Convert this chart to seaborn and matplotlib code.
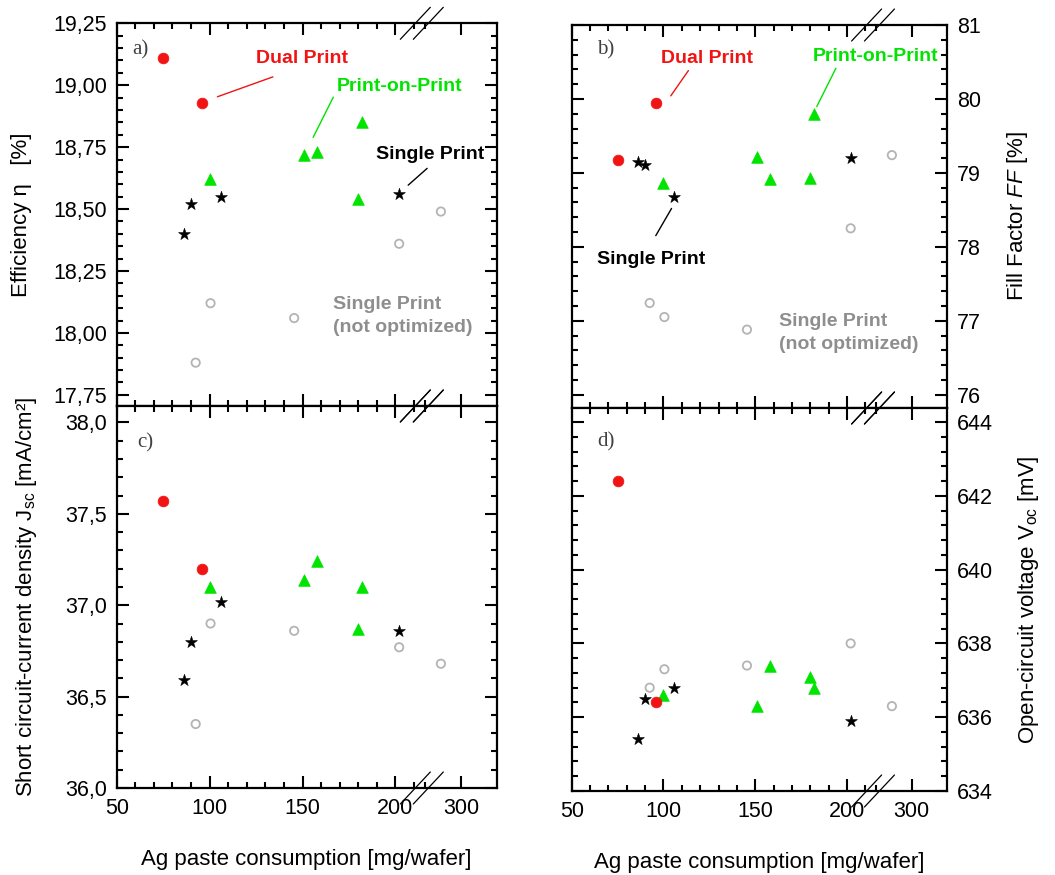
import numpy as np
import matplotlib
matplotlib.use("Agg")
import matplotlib.pyplot as plt
import seaborn as sns
from matplotlib.ticker import FixedLocator, FuncFormatter, NullFormatter
from matplotlib.lines import Line2D

sns.set_style("ticks")
plt.rcParams['font.family'] = ['Liberation Sans', 'DejaVu Sans']
plt.rcParams['mathtext.fontset'] = 'custom'
plt.rcParams['mathtext.rm'] = 'Liberation Sans'
plt.rcParams['mathtext.it'] = 'Liberation Sans:italic'
for key in ('text.color', 'axes.labelcolor', 'xtick.color', 'ytick.color'):
    plt.rcParams[key] = 'black'

# Ag paste consumption [mg/wafer]
x_dual = [75, 96]
x_single = [86, 90, 106, 202]
x_pop = [100, 151, 158, 180, 182]
x_old = [92.5, 100.5, 145.5, 202, 272]

# a) efficiency [%]
eta_dual = [19.11, 18.93]
eta_single = [18.40, 18.52, 18.55, 18.56]
eta_pop = [18.62, 18.72, 18.73, 18.54, 18.85]
eta_old = [17.88, 18.12, 18.06, 18.36, 18.49]

# b) fill factor [%]
ff_dual = [79.17, 79.95]
ff_single = [79.15, 79.10, 78.67, 79.20]
ff_pop = [78.86, 79.22, 78.92, 78.93, 79.80]
ff_old = [77.24, 77.05, 76.88, 78.25, 79.24]

# c) Jsc [mA/cm2]
jsc_dual = [37.57, 37.20]
jsc_single = [36.59, 36.80, 37.02, 36.86]
jsc_pop = [37.10, 37.14, 37.24, 36.87, 37.10]
jsc_old = [36.35, 36.90, 36.86, 36.77, 36.68]

# d) Voc [mV]
voc_dual = [642.4, 636.4]
voc_single = [635.4, 636.5, 636.8, 635.9]
voc_pop = [636.6, 636.3, 637.4, 637.1, 636.8]
voc_old = [636.8, 637.3, 637.4, 638.0, 636.3]

x_major = [50, 100, 150, 200, 300]
x_minor = [60, 70, 80, 90, 110, 120, 130, 140, 160, 170, 180, 190, 210, 250]

RED = '#f01414'
GREEN = '#00e400'
GRAY_MK = '#b4b4b4'
GRAY_TX = '#8e8e8e'

# broken x axis: 50..212 linear, 212..250 squeezed, 250..350 compressed
XK = [50, 212, 250, 350]
XL = [50, 212, 216, 254.5]


def fwd(x):
    x = np.asarray(x, float)
    y = np.interp(x, XK, XL)
    y = np.where(x < XK[0], XL[0] + (x - XK[0]), y)
    y = np.where(x > XK[-1], XL[-1] + (x - XK[-1]) * 0.385, y)
    return y


def inv(y):
    y = np.asarray(y, float)
    x = np.interp(y, XL, XK)
    x = np.where(y < XL[0], XK[0] + (y - XL[0]), x)
    x = np.where(y > XL[-1], XK[-1] + (y - XL[-1]) / 0.385, x)
    return x


fig = plt.figure(figsize=(10.55, 8.75), dpi=100)
W, H = 1055, 875


def add_ax(l, t, r, b):
    return fig.add_axes([l / W, 1 - b / H, (r - l) / W, (b - t) / H])


ax_a = add_ax(116.7, 23.3, 496.7, 406)
ax_c = add_ax(116.7, 406, 496.7, 788)
ax_b = add_ax(571.7, 25, 947, 408)
ax_d = add_ax(571.7, 408, 947, 791)

panels = [
    (ax_a, eta_dual, eta_single, eta_pop, eta_old),
    (ax_b, ff_dual, ff_single, ff_pop, ff_old),
    (ax_c, jsc_dual, jsc_single, jsc_pop, jsc_old),
    (ax_d, voc_dual, voc_single, voc_pop, voc_old),
]

for ax, yd, ys, yp, yo in panels:
    sns.scatterplot(x=x_old, y=yo, ax=ax, marker='o', s=36, color=GRAY_MK,
                    facecolors='none', edgecolor=GRAY_MK, linewidth=1.3, zorder=3)
    sns.scatterplot(x=x_pop, y=yp, ax=ax, marker='^', s=70, color=GREEN,
                    edgecolor=GREEN, linewidth=0.5, zorder=4)
    sns.scatterplot(x=x_single, y=ys, ax=ax, marker='*', s=80, color='black',
                    edgecolor='black', linewidth=0.4, zorder=5)
    sns.scatterplot(x=x_dual, y=yd, ax=ax, marker='o', s=60, color=RED,
                    edgecolor=RED, linewidth=0.5, zorder=6)
    ax.set_xscale('function', functions=(fwd, inv))
    ax.set_xlim(50, 350)
    ax.xaxis.set_major_locator(FixedLocator(x_major))
    ax.xaxis.set_minor_locator(FixedLocator(x_minor))
    ax.xaxis.set_major_formatter(FuncFormatter(lambda v, p: f"{v:.0f}"))
    ax.xaxis.set_minor_formatter(NullFormatter())
    ax.tick_params(which='both', direction='in', top=True, bottom=True,
                   left=True, right=True, width=1.5, labelsize=15.5, pad=7,
                   color='black', labelcolor='black')
    ax.tick_params(which='major', length=8.5)
    ax.tick_params(which='minor', length=4.5)
    for sp in ax.spines.values():
        sp.set_linewidth(1.6)
        sp.set_color('black')
    ax.set_xlabel('')
    ax.set_ylabel('')

# y axes
ax_a.set_ylim(17.705, 19.25)
ax_a.yaxis.set_major_locator(FixedLocator(np.arange(17.75, 19.26, 0.25)))
ax_a.yaxis.set_minor_locator(FixedLocator(np.arange(17.75, 19.26, 0.05)))
ax_a.yaxis.set_major_formatter(FuncFormatter(lambda v, p: f"{v:.2f}".replace('.', ',')))

ax_c.set_ylim(36.0, 38.09)
ax_c.yaxis.set_major_locator(FixedLocator(np.arange(36.0, 38.01, 0.5)))
ax_c.yaxis.set_minor_locator(FixedLocator(np.arange(36.0, 38.09, 0.1)))
ax_c.yaxis.set_major_formatter(FuncFormatter(lambda v, p: f"{v:.1f}".replace('.', ',')))

ax_b.set_ylim(75.82, 81.0)
ax_b.yaxis.set_major_locator(FixedLocator(np.arange(76, 81.1, 1)))
ax_b.yaxis.set_minor_locator(FixedLocator(np.arange(75.8, 81.05, 0.2)))
ax_b.yaxis.set_major_formatter(FuncFormatter(lambda v, p: f"{v:.0f}"))

ax_d.set_ylim(634.0, 644.38)
ax_d.yaxis.set_major_locator(FixedLocator(np.arange(634, 644.1, 2)))
ax_d.yaxis.set_minor_locator(FixedLocator(np.arange(634, 644.4, 0.4)))
ax_d.yaxis.set_major_formatter(FuncFormatter(lambda v, p: f"{v:.0f}"))

for ax in (ax_a, ax_b):
    ax.tick_params(labelbottom=False)
for ax in (ax_b, ax_d):
    ax.tick_params(labelleft=False, labelright=True)
    ax.yaxis.set_label_position('right')

# axis labels
ax_a.set_ylabel('Efficiency η   [%]', fontsize=16)
ax_a.yaxis.set_label_coords(-0.222, 0.5)
ax_c.set_ylabel('Short circuit-current density $\\mathregular{J_{sc}}$ [mA/cm²]', fontsize=16)
ax_c.yaxis.set_label_coords(-0.205, 0.5)
ax_b.set_ylabel('Fill Factor $FF$ [%]', fontsize=16)
ax_b.yaxis.set_label_coords(1.155, 0.5)
ax_d.set_ylabel('Open-circuit voltage $\\mathregular{V_{oc}}$ [mV]', fontsize=16)
ax_d.yaxis.set_label_coords(1.185, 0.5)
for ax in (ax_c, ax_d):
    ax.set_xlabel('Ag paste consumption [mg/wafer]', fontsize=16)
    ax.xaxis.set_label_coords(0.5, -0.16)

# panel letters
for ax, lab, (px, py) in [(ax_a, 'a)', (0.041, 0.930)), (ax_b, 'b)', (0.068, 0.936)),
                          (ax_c, 'c)', (0.054, 0.904)), (ax_d, 'd)', (0.067, 0.912))]:
    ax.text(px, py, lab, transform=ax.transAxes, family='Liberation Serif',
            fontsize=15, color='#404040', ha='left', va='center')


def label(ax, text, xy, color, line=None):
    ax.text(xy[0], xy[1], text, transform=ax.transAxes, color=color,
            fontsize=14, fontweight='bold', ha='left', va='center', linespacing=1.4)
    if line is not None:
        ax.plot([line[0], line[2]], [line[1], line[3]], transform=ax.transAxes,
                color=color, lw=1.0, clip_on=False)


label(ax_a, 'Dual Print', (0.367, 0.907), RED, (0.265, 0.808, 0.411, 0.860))
label(ax_a, 'Print-on-Print', (0.580, 0.834), GREEN, (0.517, 0.702, 0.570, 0.807))
label(ax_a, 'Single Print', (0.682, 0.658), 'black', (0.767, 0.577, 0.817, 0.621))
label(ax_a, 'Single Print\n(not optimized)', (0.569, 0.235), GRAY_TX)

label(ax_b, 'Dual Print', (0.237, 0.913), RED, (0.264, 0.815, 0.311, 0.881))
label(ax_b, 'Print-on-Print', (0.642, 0.919), GREEN, (0.653, 0.787, 0.704, 0.887))
label(ax_b, 'Single Print', (0.067, 0.388), 'black', (0.266, 0.521, 0.224, 0.450))
label(ax_b, 'Single Print\n(not optimized)', (0.552, 0.196), GRAY_TX)

# axis-break marks
BREAK_X = [210.7, 254.4]
to_fig = fig.transFigure.inverted()
for ax in (ax_a, ax_b, ax_c, ax_d):
    for yf in (0.0, 1.0):
        for xb in BREAK_X:
            px = ax.transData.transform((xb, ax.get_ylim()[0]))[0]
            py = ax.transAxes.transform((0, yf))[1]
            pts = to_fig.transform([(px - 15, py - 16), (px + 15, py + 16)])
            fig.add_artist(Line2D(pts[:, 0], pts[:, 1], transform=fig.transFigure,
                                  color='black', lw=0.9, zorder=10))

fig.savefig('out.png', dpi=100)
